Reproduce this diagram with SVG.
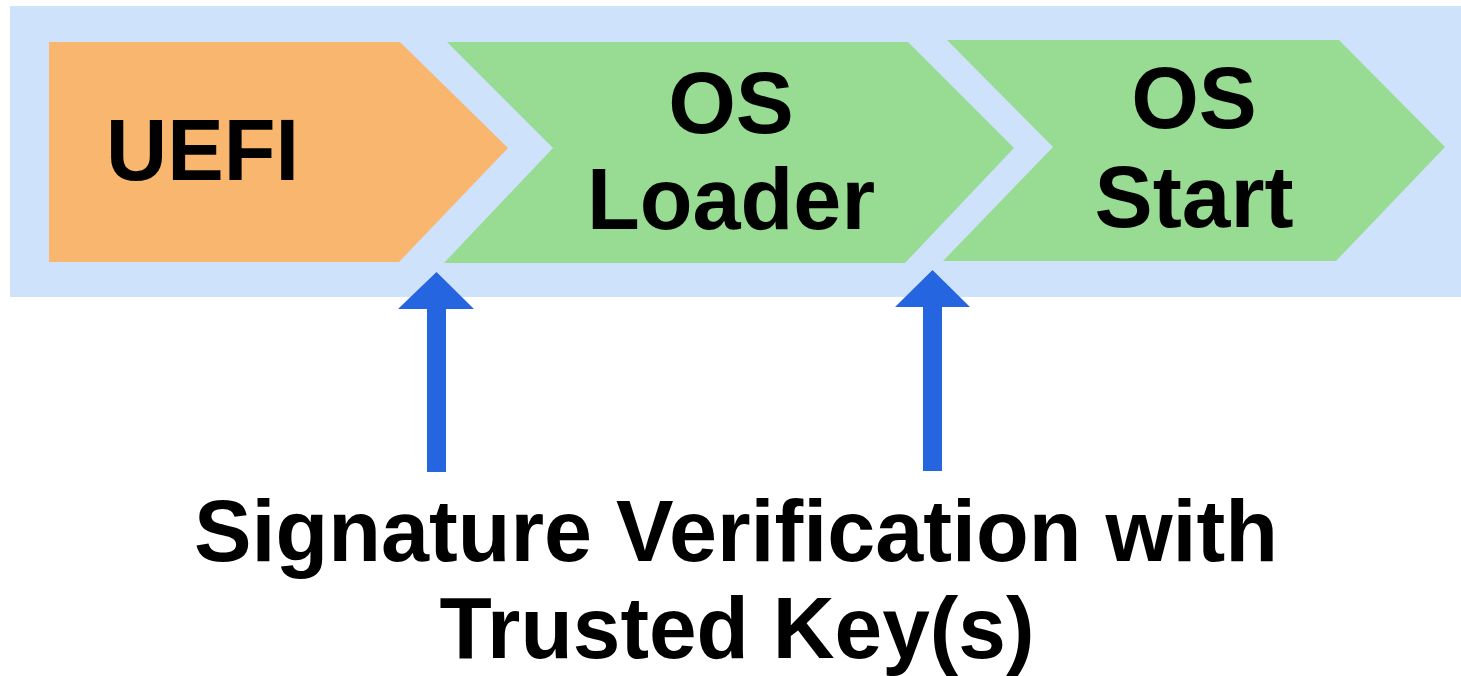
<svg xmlns="http://www.w3.org/2000/svg" width="1461" height="676" viewBox="0 0 1461 676">
<style>
.t{font-family:"Liberation Sans",Arial,sans-serif;font-weight:bold;fill:#000;}
.big{font-size:87px;}
.orange{fill:#F9B66F;}
.green{fill:#97DC92;}
.arrow{fill:#2665E0;}
</style>
<rect x="0" y="0" width="1461" height="676" fill="#fff"/>
<rect id="band" x="10" y="6" width="1451" height="291" fill="#CFE2FC"/>
<g id="uefi">
<polygon class="orange" points="49,42 400,42 508,148 399,262 49,262"/>
<text class="t big" x="106" y="180" textLength="193" lengthAdjust="spacingAndGlyphs">UEFI</text>
</g>
<g id="os-loader">
<polygon class="green" points="447,42 908,42 1014,148 905,263 444,263 553,148"/>
<text class="t big" text-anchor="middle" x="731" y="133">OS</text>
<text class="t big" text-anchor="middle" x="731" y="229" textLength="288" lengthAdjust="spacingAndGlyphs">Loader</text>
</g>
<g id="os-start">
<polygon class="green" points="947,40 1339,40 1445,147 1336,261 943,261 1053,147"/>
<text class="t big" text-anchor="middle" x="1194" y="128">OS</text>
<text class="t big" text-anchor="middle" x="1194" y="227" textLength="199" lengthAdjust="spacingAndGlyphs">Start</text>
</g>
<g id="connectors">
<polygon class="arrow" points="436.5,272 474,309 446,309 446,472 427,472 427,309 398,309"/>
<polygon class="arrow" points="932.5,270 970,307 942,307 942,471 923,471 923,307 895,307"/>
</g>
<g id="label">
<text class="t big" text-anchor="middle" x="736" y="561" textLength="1084" lengthAdjust="spacingAndGlyphs">Signature Verification with</text>
<text class="t big" text-anchor="middle" x="737" y="658" textLength="595" lengthAdjust="spacingAndGlyphs">Trusted Key(s)</text>
</g>
</svg>
